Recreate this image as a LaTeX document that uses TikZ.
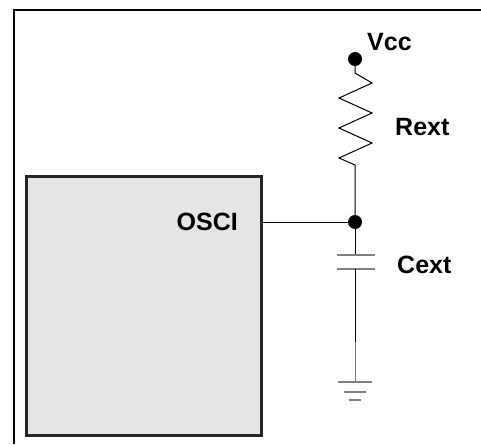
\documentclass[tikz,border=0pt]{standalone}
\usepackage{fontspec}
\setmainfont{Liberation Sans}
\usetikzlibrary{positioning}

\tikzset{
  lbl/.style={font=\fontsize{25}{29}\selectfont\bfseries, inner sep=0pt},
  dot/.style={circle, fill, inner sep=0pt, minimum size=14pt},
  wire/.style={line width=1pt},
  plate/.style={draw=black!50, line width=2pt},
}

\begin{document}
\begin{tikzpicture}[x=1pt, y=-1pt]
  \useasboundingbox (0,0) rectangle (481,444);
  % frame
  \draw[line width=1.5pt] (14,444) -- (14,10) -- (481,10);
  % chip
  \node (chip) [draw=black!85, line width=2.5pt, fill=black!10, inner sep=0pt,
    minimum width=235pt, minimum height=259pt, anchor=north west] at (25,175) {};
  \node (osci) [lbl, anchor=base east] at (238,230) {OSCI};
  % supply and junction
  \node (vcc) [dot] at (355,59) {};
  \node (jn) [dot] at (355,222) {};
  \node (vcclbl) [lbl, anchor=base west] at (367,50) {Vcc};
  \node (rext) [lbl, anchor=base west] at (395,135) {Rext};
  \node (cext) [lbl, anchor=base west] at (397,273) {Cext};
  \coordinate (rtop) at (355,73);
  \coordinate (rbot) at (355,165);
  \coordinate (ctop) at (355,255);
  \coordinate (cbot) at (355,269);
  \coordinate (gmid) at (355,342);
  \coordinate (gnd) at (355,382);
  % resistor
  \draw[wire] (vcc) -- (rtop) -- ++(17,10) -- ++(-33,15) -- ++(33,15)
    -- ++(-33,15) -- ++(33,15) -- ++(-33,15) -- (rbot) -- (jn);
  % osci line
  \draw[wire] (chip.east |- jn) -- (jn);
  % capacitor
  \draw[wire] (jn) -- (ctop);
  \draw[plate] ([xshift=-18pt]ctop) -- ([xshift=20pt]ctop);
  \draw[plate] ([xshift=-18pt]cbot) -- ([xshift=20pt]cbot);
  \draw[wire] (cbot) -- (gmid);
  \draw[wire, black!55] (gmid) -- (gnd);
  % ground
  \draw[plate, line width=1.5pt] ([xshift=-17pt]gnd) -- ([xshift=17pt]gnd);
  \draw[plate, line width=1.5pt] ([xshift=-11pt, yshift=-10pt]gnd) -- ([xshift=11pt, yshift=-10pt]gnd);
  \draw[plate, line width=1.5pt] ([xshift=-6pt, yshift=-18pt]gnd) -- ([xshift=6pt, yshift=-18pt]gnd);
\end{tikzpicture}
\end{document}
